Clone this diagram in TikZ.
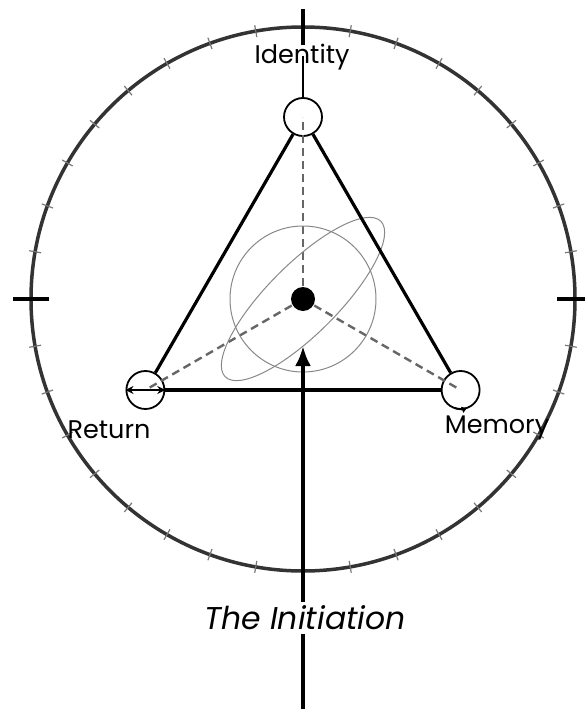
\documentclass[tikz,border=0pt]{standalone}
\usepackage{fontspec}
\setmainfont{Poppins}
\usetikzlibrary{arrows.meta,calc}
\definecolor{ringgray}{HTML}{333333}
\definecolor{tickgray}{HTML}{777777}
\definecolor{dashgray}{HTML}{666666}
\definecolor{thingray}{HTML}{888888}
\begin{document}
\begin{tikzpicture}[x=1pt,y=-1pt,
  vert/.style={circle,draw=black,line width=1.8pt,minimum size=38pt,inner sep=0pt},
  lbl/.style={font=\fontsize{25.5}{30}\selectfont,inner sep=2pt},
  minortick/.style={draw=tickgray,line width=1.2pt},
  majortick/.style={draw=black,line width=3.8pt},
  dashline/.style={draw=dashgray,line width=2.4pt,dash pattern=on 8pt off 5pt},
  thinline/.style={draw=thingray,line width=1pt},
  triedge/.style={draw=black,line width=3.2pt}]
\useasboundingbox (0,0) rectangle (584,709);
\coordinate (C) at (303,299);
% outer ring
\draw[ringgray,line width=3.5pt] (C) circle[radius=272pt];
\foreach \a in {10,20,30,40,50,60,70,80,100,110,120,130,140,150,160,170,190,200,210,220,230,240,250,260,280,290,300,310,320,330,340,350}
  \draw[minortick] ($(C)+(\a:266pt)$) -- ($(C)+(\a:278pt)$);
\foreach \a in {0,90,180,270}
  \draw[majortick] ($(C)+(\a:254pt)$) -- ($(C)+(\a:290pt)$);
% vertices
\node[vert] (I) at (303,117) {};
\node[vert] (R) at (145.4,390) {};
\node[vert] (M) at (460.6,390) {};
% dashed spokes
\draw[dashline] (C) -- (I.center);
\draw[dashline] (C) -- (R.center);
\draw[dashline] (C) -- (M.center);
% inner circle and ellipse
\draw[thinline] (C) circle[radius=73pt];
\draw[thinline,rotate around={45:(C)}] (C) ellipse[x radius=110pt,y radius=35pt];
% triangle
\draw[triedge] (I) -- (R);
\draw[triedge] (R) -- (M);
\draw[triedge] (M) -- (I);
% center dot
\node[circle,fill=black,minimum size=24pt,inner sep=0pt] (D) at (C) {};
% return double arrow
\draw[line width=1.8pt,{Stealth[length=8pt,width=8pt]}-{Stealth[length=8pt,width=8pt]}] (R.west) -- (R.east);
% memory arrow tip
\draw[line width=1.8pt,-{Latex[length=6pt,width=7pt]}] ($(M.center)+(250:19pt)$) arc[start angle=250,end angle=292,radius=19pt];
% identity stem
\coordinate (IdTop) at (303,56);
\draw[line width=1.3pt] (IdTop) -- (I.north);
\node[lbl] (IdL) at (302,57) {Identity};
\node[lbl] (RL) at (109,430) {Return};
\node[lbl] (ML) at (497,428) {Memory};
% initiation arrow
\coordinate (B) at (303,709);
\coordinate (T) at (303,346);
\draw[line width=4pt,-{Latex[length=20pt,width=16pt]}] (B) -- (T);
\node[lbl,fill=white,inner sep=4pt,font=\fontsize{31.5}{36}\selectfont\itshape] (In) at (305,618) {The Initiation};
\end{tikzpicture}
\end{document}
